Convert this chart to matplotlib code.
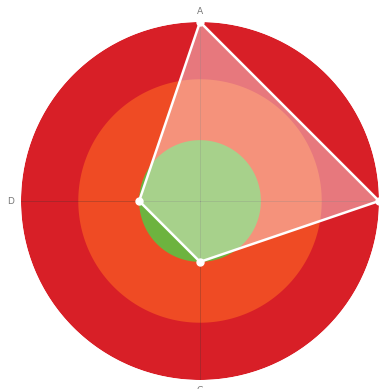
import numpy as np
import matplotlib.pyplot as plt

axes_labels = ['A', 'B', 'C', 'D']
values = [100, 100, 34, 34]
band_limits = [100, 68, 34]
band_colors = ['#d81f27', '#ef4b24', '#6db33f']

angles = np.linspace(0, 2 * np.pi, len(axes_labels), endpoint=False)

fig = plt.figure(figsize=(3.82, 3.89), dpi=100)
ax = fig.add_axes([21 / 382, 9 / 389, 358 / 382, 358 / 389], projection='polar')
ax.set_theta_zero_location('N')
ax.set_theta_direction(-1)
ax.set_ylim(0, 100)

# coloured bands, largest first
ring = np.linspace(0, 2 * np.pi, 361)
for lim, col in zip(band_limits, band_colors):
    ax.fill(ring, np.full_like(ring, lim), color=col, lw=0, zorder=1)

# spokes
for a in angles:
    ax.plot([a, a], [0, 100], color='#333333', lw=0.6, alpha=0.3, zorder=2)

# data polygon
th = np.append(angles, angles[0])
r = np.append(values, values[0])
ax.fill(th, r, color='white', alpha=0.4, lw=0, zorder=3)
ax.plot(th, r, color='white', lw=1.8, zorder=4)
ax.plot(angles, values, 'o', color='white', ms=5, zorder=5, clip_on=False)

for a, lab in zip(angles, axes_labels):
    ax.text(a, 106, lab, ha='center', va='center', fontsize=6.5, color='#777777', clip_on=False)

ax.set_xticks([])
ax.set_yticks([])
ax.grid(False)
ax.spines['polar'].set_visible(False)
ax.patch.set_alpha(0)

fig.savefig('out.png', dpi=100)
